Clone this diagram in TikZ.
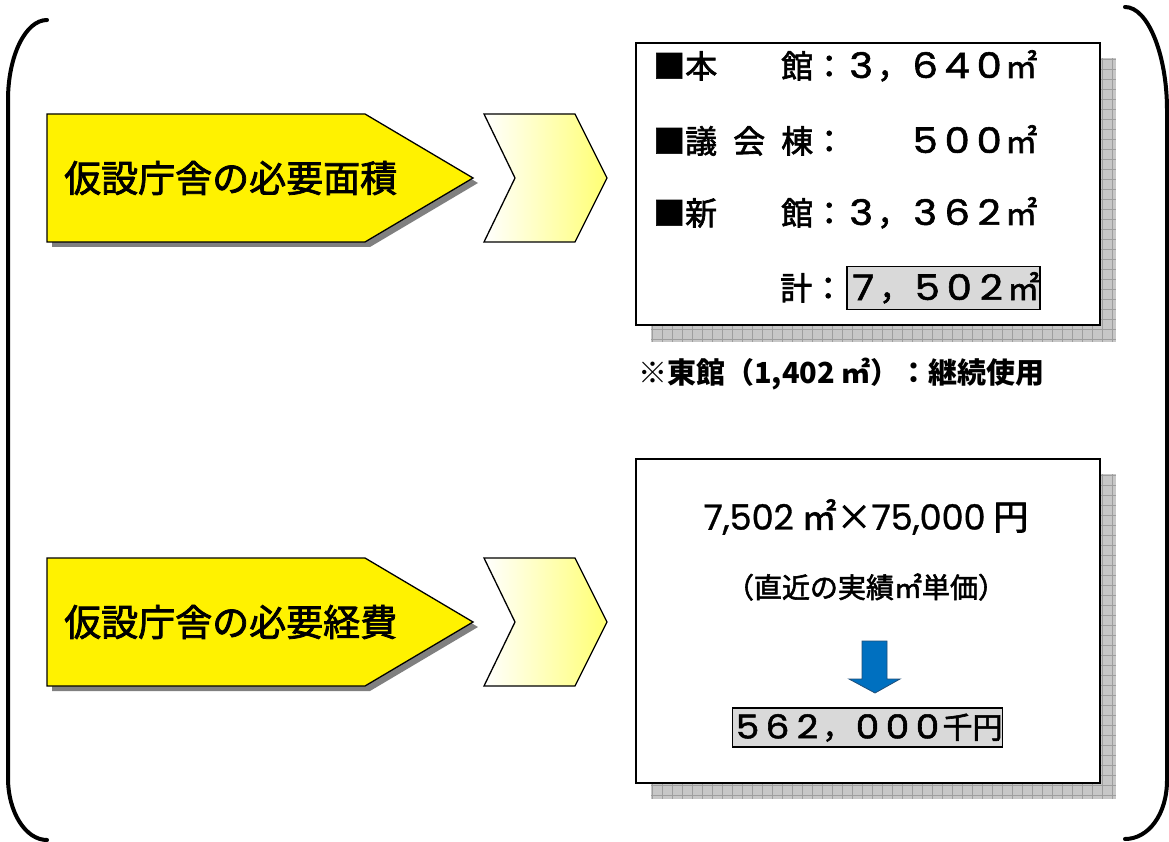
\documentclass[tikz,border=0pt]{standalone}
\usepackage{graphicx}
\usepackage{fontspec}
\newfontfamily\jp{Noto Sans CJK JP}[FakeBold=2]
\newfontfamily\jpn{Noto Sans CJK JP}
\newfontfamily\dg{Poppins}[FakeBold=1.5]
\newfontfamily\dgp{Poppins}[FakeBold=1]
\newcommand\fwd[1]{\makebox[1em]{\scalebox{1.25}[1.1]{\dg #1}}}
\begin{document}
\begin{tikzpicture}[x=1pt,y=-1pt,
  bracket/.style={line width=4pt, line cap=round},
  pent/.style={fill=yellow, draw=black, line width=1.3pt, line join=miter},
  pshadow/.style={fill=black!50},
  chev/.style={draw=black, line width=1.3pt, left color=white, right color=yellow!55},
  infobox/.style={fill=white, draw=black, line width=1.6pt},
  shadowfill/.style={fill=black!22},
  gridline/.style={draw=black!38, line width=0.7pt},
  graybox/.style={fill=black!15, draw=black, line width=1.6pt, inner sep=0pt},
  txt/.style={inner sep=0pt, font=\jp},
  row/.style={txt, anchor=west, font=\jp\fontsize{32}{38}\selectfont, text height=28pt, text depth=4pt},
]
\useasboundingbox (0,0) rectangle (1169,842);
% brackets
\draw[bracket] (47,20) .. controls (25.5,20) and (8,56) .. (8,100) -- (8,778)
  .. controls (8,812) and (25.5,840) .. (47,840);
\draw[bracket] (1125,7) .. controls (1148,7) and (1167,55) .. (1167,110) -- (1167,780)
  .. controls (1167,815) and (1148,839) .. (1125,839);

% top pentagon + chevron
\fill[pshadow] (52,119) -- (370,119) -- (478,183) -- (370,247) -- (52,247) -- cycle;
\draw[pent] (47,114) -- (365,114) -- (473,178) -- (365,242) -- (47,242) -- cycle;
\node[txt, anchor=west, font=\jp\fontsize{37}{44}\selectfont] (h1) at (64,178) {仮設庁舎の必要面積};
\draw[chev] (484,114) -- (575,114) -- (607,178) -- (575,242) -- (484,242) -- (515,178) -- cycle;

% bottom pentagon + chevron
\fill[pshadow] (52,563) -- (370,563) -- (478,627) -- (370,691) -- (52,691) -- cycle;
\draw[pent] (47,558) -- (365,558) -- (473,622) -- (365,686) -- (47,686) -- cycle;
\node[txt, anchor=west, font=\jp\fontsize{37}{44}\selectfont] (h2) at (64,622) {仮設庁舎の必要経費};
\draw[chev] (484,558) -- (575,558) -- (607,622) -- (575,686) -- (484,686) -- (515,622) -- cycle;

% box 1 shadow
\begin{scope}
\clip (651,58) rectangle (1116,342);
\fill[shadowfill] (651,58) rectangle (1116,342);
\foreach \x in {652,662,...,1116} \draw[gridline] (\x,58) -- (\x,342);
\foreach \y in {59,69,...,342} \draw[gridline] (651,\y) -- (1116,\y);
\end{scope}
\draw[infobox] (636,43) rectangle (1100,325);
\node[row] (r1) at (653,66) {■本　　館：\fwd3，\fwd6\fwd4\fwd0㎡};
\node[row] (r2) at (653,141) {■議\hspace{16pt}会\hspace{16pt}棟：　　\fwd5\fwd0\fwd0㎡};
\node[row] (r3) at (653,213) {■新　　館：\fwd3，\fwd3\fwd6\fwd2㎡};
\node[row] (r4) at (780,288) {計：};
\node[graybox, anchor=west, font=\jp\fontsize{32}{38}\selectfont, minimum width=193pt, minimum height=43pt, text height=28pt, text depth=4pt] (tot) at (846,288) {\fwd7，\fwd5\fwd0\fwd2㎡};

\node[txt, anchor=west, font=\jpn\bfseries\fontsize{29}{34}\selectfont] (note) at (638,374) {※東館（1,402 ㎡）：継続使用};

% box 2 shadow
\begin{scope}
\clip (651,474) rectangle (1116,799);
\fill[shadowfill] (651,474) rectangle (1116,799);
\foreach \x in {652,662,...,1116} \draw[gridline] (\x,474) -- (\x,799);
\foreach \y in {475,485,...,799} \draw[gridline] (651,\y) -- (1116,\y);
\end{scope}
\draw[infobox] (636,459) rectangle (1100,783);
\node[txt, font=\jp\fontsize{35}{42}\selectfont] (calc) at (866,517) {{\dgp 7,502} ㎡×{\dgp 75,000} 円};
\node[txt, font=\jp\fontsize{28}{33}\selectfont] (unit) at (866,587) {（直近の実績㎡単価）};
\draw[fill={rgb,255:red,0;green,112;blue,192}, draw={rgb,255:red,31;green,78;blue,121}, line width=0.8pt]
  (862,641) -- (887,641) -- (887,679) -- (900,679) -- (875,693) -- (849,679) -- (862,679) -- cycle;
\node[graybox, font=\jp\fontsize{30}{36}\selectfont, minimum width=267pt, minimum height=39pt, text height=26pt, text depth=4pt] (res) at (867.5,727.5) {\fwd5\fwd6\fwd2，\fwd0\fwd0\fwd0千円};
\end{tikzpicture}
\end{document}
